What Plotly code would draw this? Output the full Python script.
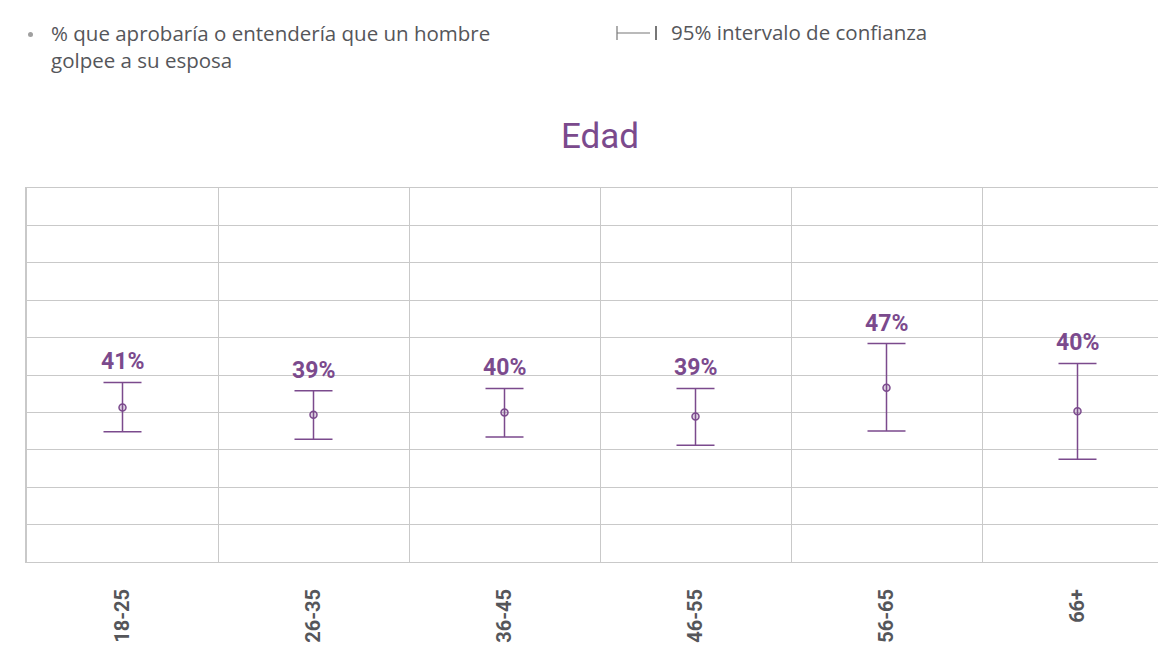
import plotly.graph_objects as go

categories = ["18-25", "26-35", "36-45", "46-55", "56-65", "66+"]
values = [41.3, 39.4, 40.0, 38.9, 46.6, 40.3]
upper = [48.0, 45.8, 46.4, 46.4, 58.4, 53.1]
lower = [34.8, 32.8, 33.4, 31.2, 35.0, 27.5]
labels = ["41%", "39%", "40%", "39%", "47%", "40%"]

PURPLE = "#7b4a8d"
GRID = "#c9c9c9"
TEXT = "#55565a"

W, H = 1158, 645
L, R, T, B = 27, 0, 188, 83
pw, ph = W - L - R, H - T - B

def px(x):
    return (x - L) / pw

def py(y):
    return (H - B - y) / ph

fig = go.Figure()
fig.add_trace(go.Scatter(
    x=categories, y=values, mode="markers",
    marker=dict(size=7, color="rgba(123,74,141,0.25)", line=dict(color=PURPLE, width=1.5)),
    error_y=dict(type="data", symmetric=False,
                 array=[u - v for u, v in zip(upper, values)],
                 arrayminus=[v - l for v, l in zip(values, lower)],
                 color=PURPLE, thickness=1.5, width=19),
    showlegend=False, hoverinfo="skip",
))

annotations = []
for c, u, t in zip(categories, upper, labels):
    annotations.append(dict(x=c, y=u, xref="x", yref="y", text="<b>%s</b>" % t,
                            showarrow=False, yanchor="bottom", yshift=5,
                            font=dict(family="Roboto", size=23, color=PURPLE)))

# title
annotations.append(dict(x=px(600), y=py(137), xref="paper", yref="paper", text="Edad",
                        showarrow=False, xanchor="center", yanchor="middle",
                        font=dict(family="Roboto", size=35, color=PURPLE)))
# legend texts
annotations.append(dict(x=px(49), y=py(46), xref="paper", yref="paper",
                        text="% que aprobaría o entendería que un hombre<br>golpee a su esposa",
                        showarrow=False, xanchor="left", yanchor="middle", align="left",
                        font=dict(family="Open Sans", size=20.5, color=TEXT)))
annotations.append(dict(x=px(669), y=py(32), xref="paper", yref="paper",
                        text="95% intervalo de confianza",
                        showarrow=False, xanchor="left", yanchor="middle", align="left",
                        font=dict(family="Open Sans", size=20.5, color=TEXT)))

shapes = [
    dict(type="circle", xref="paper", yref="paper", x0=px(28), x1=px(33), y0=py(37), y1=py(32),
         fillcolor="#a0a0a0", line=dict(width=0)),
    dict(type="line", xref="paper", yref="paper", x0=px(617), x1=px(617), y0=py(26), y1=py(40),
         line=dict(color="#777", width=1.2)),
    dict(type="line", xref="paper", yref="paper", x0=px(617), x1=px(650), y0=py(33), y1=py(33),
         line=dict(color="#777", width=1.2)),
    dict(type="line", xref="paper", yref="paper", x0=px(656), x1=px(656), y0=py(26), y1=py(40),
         line=dict(color="#777", width=2)),
]

fig.update_layout(
    width=W, height=H,
    margin=dict(l=L, r=R, t=T, b=B, autoexpand=False),
    paper_bgcolor="white", plot_bgcolor="white",
    annotations=annotations, shapes=shapes,
    xaxis=dict(type="category", range=[-0.5, -0.5 + pw / 191.0],
               tickson="boundaries", showgrid=True, gridcolor=GRID, gridwidth=1,
               ticks="", tickangle=-90, ticklabelstandoff=18, automargin=False,
               tickfont=dict(family="Roboto", size=20, color=TEXT, weight="bold"),
               showline=True, linecolor=GRID, linewidth=1, mirror=True,
               zeroline=False, fixedrange=True),
    yaxis=dict(range=[0, 100], dtick=10, showgrid=True, gridcolor=GRID, gridwidth=1,
               showticklabels=False, ticks="", zeroline=False, automargin=False,
               showline=True, linecolor=GRID, linewidth=1.5, fixedrange=True),
)

fig.write_html("out.html", config={"displayModeBar": False},
               post_script="document.body.style.margin='0';")
